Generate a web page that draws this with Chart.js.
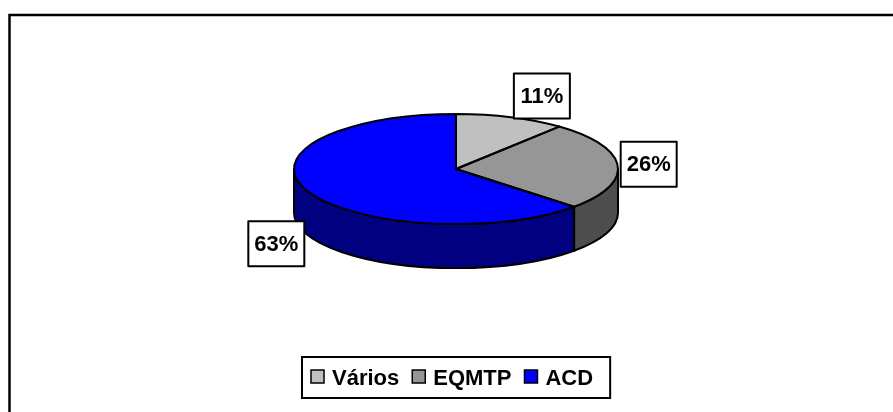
<!DOCTYPE html>
<html>
<head>
<meta charset="utf-8">
<script src="https://cdn.jsdelivr.net/npm/chart.js@4.4.0/dist/chart.umd.min.js"></script>
<style>
  html, body { margin: 0; padding: 0; background: #fff; }
  #wrap { position: relative; width: 893px; height: 412px; }
</style>
</head>
<body>
<div id="wrap"><canvas id="shareChart"></canvas></div>
<script>
// Chart data
const labels = ['Vários', 'EQMTP', 'ACD'];
const values = [11, 26, 63];
const topColors = ['#C0C0C0', '#969696', '#0000FF'];
const sideColors = ['#606060', '#4D4D4D', '#000080'];

const TILT = 0.34;   // ry / rx of the top face
const DEPTH = 44;    // thickness of the pie
const FONT = 'bold 22px "Liberation Sans", Arial, sans-serif';

function ellipseOf(arc) {
    return { cx: arc.x, cy: arc.y, rx: arc.outerRadius, ry: arc.outerRadius * TILT };
}

const pie3d = {
    id: 'pie3d',
    beforeDraw(chart) {
        const ctx = chart.ctx;
        ctx.save();
        ctx.fillStyle = '#fff';
        ctx.fillRect(0, 0, chart.width, chart.height);
        // outer frame, cut off at the right and bottom like the original
        ctx.strokeStyle = '#000';
        ctx.lineWidth = 2.5;
        ctx.strokeRect(9.5, 15, chart.width + 20, chart.height + 20);
        ctx.restore();
    },
    beforeDatasetsDraw(chart) {
        const ctx = chart.ctx;
        const arcs = chart.getDatasetMeta(0).data;
        const e = ellipseOf(arcs[0]);

        // side walls of the front half
        ctx.save();
        ctx.lineWidth = 2;
        ctx.strokeStyle = '#000';
        ctx.lineJoin = 'round';
        arcs.forEach((arc, i) => {
            for (let k = -1; k <= 1; k++) {
                const s = Math.max(arc.startAngle, 2 * Math.PI * k);
                const t = Math.min(arc.endAngle, 2 * Math.PI * k + Math.PI);
                if (t <= s) continue;
                ctx.beginPath();
                ctx.ellipse(e.cx, e.cy, e.rx, e.ry, 0, s, t);
                ctx.lineTo(e.cx + e.rx * Math.cos(t), e.cy + e.ry * Math.sin(t) + DEPTH);
                ctx.ellipse(e.cx, e.cy + DEPTH, e.rx, e.ry, 0, t, s, true);
                ctx.closePath();
                ctx.fillStyle = sideColors[i];
                ctx.fill();
                ctx.stroke();
            }
        });
        ctx.restore();

        // squash the pie Chart.js draws into the top ellipse
        ctx.save();
        ctx.translate(e.cx, e.cy);
        ctx.scale(1, TILT);
        ctx.translate(-e.cx, -e.cy);
    },
    afterDatasetsDraw(chart) {
        const ctx = chart.ctx;
        ctx.restore();

        const arcs = chart.getDatasetMeta(0).data;
        const e = ellipseOf(arcs[0]);
        const data = chart.data.datasets[0].data;
        const total = data.reduce((a, b) => a + b, 0);

        // slice outlines on the top face
        ctx.save();
        ctx.lineWidth = 2;
        ctx.strokeStyle = '#000';
        ctx.lineJoin = 'round';
        arcs.forEach(arc => {
            ctx.beginPath();
            ctx.moveTo(e.cx, e.cy);
            ctx.ellipse(e.cx, e.cy, e.rx, e.ry, 0, arc.startAngle, arc.endAngle);
            ctx.closePath();
            ctx.stroke();
        });

        // percentage labels in boxes
        const w = 56, h = 45, gap = 3;
        ctx.font = FONT;
        ctx.textAlign = 'center';
        ctx.textBaseline = 'middle';
        arcs.forEach((arc, i) => {
            const mid = (arc.startAngle + arc.endAngle) / 2;
            const c = Math.cos(mid), s = Math.sin(mid);
            const px = e.cx + e.rx * c;
            const py = e.cy + e.ry * s + (s > 0 ? DEPTH : 0);
            const left = c >= 0 ? px + gap : px - gap - w;
            const top = py + s * h / 2 - h / 2;
            ctx.fillStyle = '#fff';
            ctx.fillRect(left, top, w, h);
            ctx.strokeRect(left, top, w, h);
            ctx.fillStyle = '#000';
            ctx.fillText(Math.round(data[i] / total * 100) + '%', left + w / 2, top + h / 2 + 1);
        });
        ctx.restore();
    },
    afterDraw(chart) {
        const ctx = chart.ctx;
        const arcs = chart.getDatasetMeta(0).data;
        const cx = arcs[0].x;
        const names = chart.data.labels;
        const colors = chart.data.datasets[0].backgroundColor;

        // boxed legend under the pie
        const sq = 13, afterSq = 8, itemGap = 13, padL = 9, padR = 17;
        const top = 357, boxH = 41;
        ctx.save();
        ctx.font = FONT;
        const widths = names.map(n => ctx.measureText(n).width);
        const boxW = padL + padR + widths.reduce((a, tw) => a + sq + afterSq + tw, 0) + itemGap * (names.length - 1);
        const left = Math.round(cx - boxW / 2);
        ctx.fillStyle = '#fff';
        ctx.fillRect(left, top, boxW, boxH);
        ctx.lineWidth = 2;
        ctx.strokeStyle = '#000';
        ctx.strokeRect(left, top, boxW, boxH);

        let x = left + padL;
        const midY = top + boxH / 2;
        ctx.textAlign = 'left';
        ctx.textBaseline = 'middle';
        names.forEach((n, i) => {
            ctx.fillStyle = colors[i];
            ctx.fillRect(x, midY - sq / 2 - 1, sq, sq);
            ctx.lineWidth = 1.5;
            ctx.strokeRect(x, midY - sq / 2 - 1, sq, sq);
            x += sq + afterSq;
            ctx.fillStyle = '#000';
            ctx.fillText(n, x, midY + 1);
            x += widths[i] + itemGap;
        });
        ctx.restore();
    }
};

const config = {
    type: 'pie',
    data: {
        labels: labels,
        datasets: [{
            data: values,
            backgroundColor: topColors,
            borderWidth: 0,
            hoverOffset: 0,
            offset: 0,
            clip: false
        }]
    },
    options: {
        responsive: true,
        maintainAspectRatio: false,
        animation: false,
        events: [],
        layout: { padding: { left: 294, right: 275, top: 7, bottom: 81 } },
        plugins: {
            legend: { display: false },
            tooltip: { enabled: false },
            title: { display: false }
        }
    },
    plugins: [pie3d]
};

new Chart(document.getElementById('shareChart'), config);
</script>
</body>
</html>
